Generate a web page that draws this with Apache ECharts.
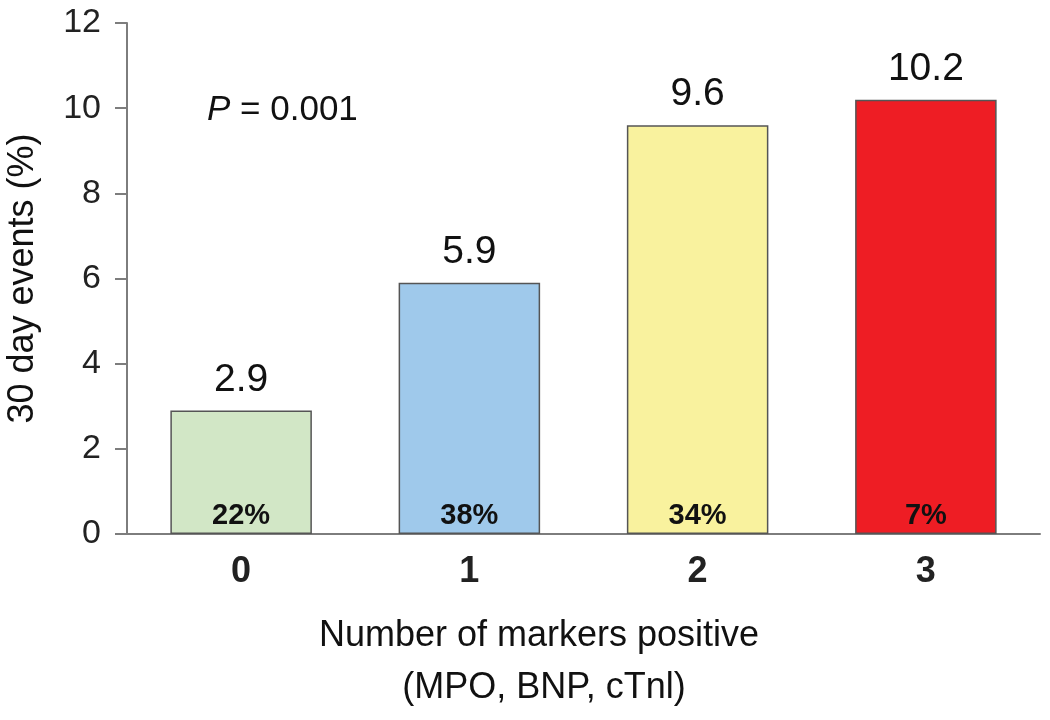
<!DOCTYPE html>
<html>
<head>
<meta charset="utf-8">
<script src="https://cdn.jsdelivr.net/npm/echarts@6/dist/echarts.min.js"></script>
<style>
  html, body { margin: 0; padding: 0; background: #fff; }
  #bar-chart { width: 1050px; height: 720px; }
</style>
</head>
<body>
<div id="bar-chart"></div>
<script>
// data
var categories = ['0', '1', '2', '3'];
var eventRates = [2.9, 5.9, 9.6, 10.2];
var patientShares = ['22%', '38%', '34%', '7%'];
var barColors = ['#d2e7c6', '#9fc9eb', '#f9f29e', '#ee1d24'];

var axisGrey = '#7d7d7d';
var font = 'Liberation Sans, Arial, sans-serif';

var myChart = echarts.init(document.getElementById('bar-chart'));

var option = {
    backgroundColor: '#fff',
    animation: false,
    grid: { left: 127, right: 10, top: 23, bottom: 186, outerBoundsMode: 'none' },
    xAxis: {
        type: 'category',
        data: categories,
        axisLine: { lineStyle: { color: axisGrey, width: 2 } },
        axisTick: { length: 12, lineStyle: { color: axisGrey, width: 2 } },
        axisLabel: { color: '#222', fontSize: 36, fontWeight: 'bold', fontFamily: font, margin: 20 }
    },
    yAxis: {
        type: 'value',
        min: 0,
        max: 12,
        interval: 2,
        name: '30 day events (%)',
        nameLocation: 'middle',
        nameRotate: 90,
        nameGap: 86,
        nameTextStyle: { color: '#111', fontSize: 36, fontFamily: font },
        splitLine: { show: false },
        axisLine: { show: true, lineStyle: { color: axisGrey, width: 2 } },
        axisTick: { show: true, length: 12, lineStyle: { color: axisGrey, width: 2 } },
        axisLabel: { color: '#222', fontSize: 34, fontFamily: font, margin: 26 }
    },
    series: [
        {
            name: 'events',
            type: 'bar',
            barWidth: '62%',
            data: eventRates.map(function (v, i) {
                return { value: v, itemStyle: { color: barColors[i] } };
            }),
            itemStyle: { borderColor: '#555', borderWidth: 1.5 },
            label: {
                show: true,
                position: 'insideBottom',
                distance: 4,
                formatter: function (p) { return patientShares[p.dataIndex]; },
                color: '#111',
                fontSize: 29,
                fontWeight: 'bold',
                fontFamily: font
            }
        },
        {
            name: 'values',
            type: 'bar',
            barWidth: '62%',
            barGap: '-100%',
            silent: true,
            data: eventRates,
            itemStyle: { color: 'rgba(0,0,0,0)' },
            label: {
                show: true,
                position: 'top',
                distance: 11,
                color: '#111',
                fontSize: 39,
                fontFamily: font
            }
        }
    ],
    graphic: [
        {
            type: 'text',
            left: 207,
            top: 93,
            style: {
                text: '{p|P} = 0.001',
                fill: '#111',
                fontSize: 35,
                fontFamily: font,
                rich: { p: { fontStyle: 'italic', fontSize: 35, fontFamily: font, fill: '#111' } }
            }
        },
        {
            type: 'text',
            x: 539,
            y: 636,
            style: {
                text: 'Number of markers positive',
                fill: '#111',
                fontSize: 36,
                fontFamily: font,
                align: 'center',
                verticalAlign: 'middle'
            }
        },
        {
            type: 'text',
            x: 544,
            y: 688,
            style: {
                text: '(MPO, BNP, cTnl)',
                fill: '#111',
                fontSize: 36,
                fontFamily: font,
                align: 'center',
                verticalAlign: 'middle'
            }
        }
    ]
};

myChart.setOption(option);
</script>
</body>
</html>
